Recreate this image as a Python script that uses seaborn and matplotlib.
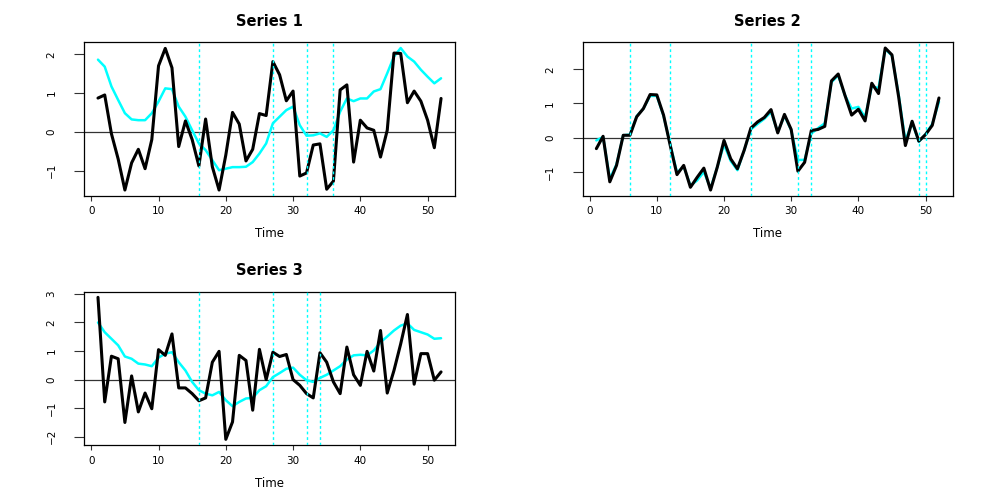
import numpy as np
import pandas as pd
import matplotlib
matplotlib.use("Agg")
import matplotlib.pyplot as plt
import seaborn as sns

# ---------- Data ---------- #
time = np.arange(1, 53)

series1_obs = [0.87, 0.95, -0.05, -0.70, -1.50, -0.80, -0.45, -0.95, -0.20, 1.70,
               2.15, 1.65, -0.38, 0.28, -0.20, -0.88, 0.33, -0.90, -1.50, -0.60,
               0.50, 0.20, -0.75, -0.45, 0.47, 0.42, 1.81, 1.47, 0.80, 1.05,
               -1.14, -1.06, -0.34, -0.31, -1.48, -1.27, 1.08, 1.21, -0.78, 0.30,
               0.10, 0.04, -0.65, 0.04, 2.03, 2.02, 0.75, 1.05, 0.79, 0.30,
               -0.41, 0.86]
series1_fit = [1.86, 1.68, 1.17, 0.82, 0.48, 0.32, 0.30, 0.30, 0.48, 0.78,
               1.12, 1.10, 0.65, 0.39, 0.04, -0.30, -0.47, -0.73, -0.99, -0.95,
               -0.91, -0.91, -0.90, -0.78, -0.56, -0.30, 0.22, 0.39, 0.56, 0.65,
               0.17, -0.10, -0.09, -0.04, -0.13, 0.04, 0.52, 0.86, 0.79, 0.86,
               0.86, 1.04, 1.10, 1.51, 1.94, 2.16, 1.94, 1.81, 1.60, 1.42,
               1.25, 1.38]
series1_breaks = [16, 27, 32, 36]

series2_obs = [-0.32, 0.04, -1.29, -0.81, 0.07, 0.07, 0.61, 0.85, 1.26, 1.25,
               0.66, -0.23, -1.08, -0.81, -1.45, -1.16, -0.89, -1.53, -0.86, -0.08,
               -0.62, -0.91, -0.37, 0.28, 0.46, 0.59, 0.82, 0.14, 0.68, 0.24,
               -0.98, -0.72, 0.21, 0.24, 0.33, 1.66, 1.86, 1.24, 0.66, 0.83,
               0.49, 1.59, 1.29, 2.62, 2.42, 1.19, -0.23, 0.48, -0.10, 0.09,
               0.36, 1.16]
series2_fit = [-0.08, 0.02, -1.20, -0.78, 0.07, 0.09, 0.63, 0.85, 1.22, 1.22,
               0.64, -0.20, -1.02, -0.84, -1.40, -1.25, -1.00, -1.48, -0.86, -0.20,
               -0.68, -0.95, -0.37, 0.24, 0.40, 0.55, 0.75, 0.16, 0.64, 0.22,
               -0.65, -0.65, 0.12, 0.28, 0.42, 1.62, 1.82, 1.24, 0.85, 0.90,
               0.60, 1.50, 1.45, 2.58, 2.40, 1.25, -0.10, 0.45, -0.12, 0.10,
               0.40, 1.05]
series2_breaks = [6, 12, 24, 31, 33, 49, 50]

series3_obs = [2.88, -0.78, 0.82, 0.73, -1.50, 0.13, -1.13, -0.47, -1.02, 1.05,
               0.85, 1.60, -0.29, -0.29, -0.49, -0.74, -0.64, 0.61, 0.99, -2.09,
               -1.48, 0.85, 0.67, -1.07, 1.06, 0.00, 0.96, 0.81, 0.88, 0.00,
               -0.20, -0.49, -0.64, 0.94, 0.61, -0.08, -0.49, 1.14, 0.17, -0.20,
               0.99, 0.30, 1.72, -0.47, 0.32, 1.25, 2.28, -0.16, 0.91, 0.91,
               -0.02, 0.27]
series3_fit = [2.00, 1.66, 1.43, 1.20, 0.81, 0.73, 0.56, 0.53, 0.47, 0.77,
               0.91, 0.96, 0.61, 0.32, -0.08, -0.37, -0.49, -0.55, -0.43, -0.72,
               -0.93, -0.78, -0.66, -0.64, -0.37, -0.23, 0.09, 0.23, 0.38, 0.42,
               0.17, -0.02, -0.08, 0.06, 0.17, 0.32, 0.47, 0.70, 0.85, 0.87,
               0.85, 1.02, 1.31, 1.51, 1.72, 1.89, 1.97, 1.74, 1.66, 1.58,
               1.43, 1.45]
series3_breaks = [16, 27, 32, 34]

titles = ["Series 1", "Series 2", "Series 3"]
x_ticks = [0, 10, 20, 30, 40, 50]
y_ticks = [[-1, 0, 1, 2], [-1, 0, 1, 2], [-2, -1, 0, 1, 2, 3]]

# ---------- Plot ---------- #
sns.set_theme(style="ticks")
plt.rcParams["font.family"] = ["DejaVu Sans"]
plt.rcParams.update({"text.color": "black", "axes.labelcolor": "black",
                     "xtick.color": "black", "ytick.color": "black"})

fig = plt.figure(figsize=(9.96, 4.98), dpi=100)
positions = [[0.0846, 0.607, 0.372, 0.308],
             [0.585, 0.607, 0.3715, 0.308],
             [0.0846, 0.1064, 0.372, 0.3079]]

panels = [(series1_obs, series1_fit, series1_breaks),
          (series2_obs, series2_fit, series2_breaks),
          (series3_obs, series3_fit, series3_breaks)]

for i, (obs, fit, breaks) in enumerate(panels):
    ax = fig.add_axes(positions[i])
    df = pd.DataFrame({"Time": time, "obs": obs, "fit": fit})

    ax.axhline(0, color="#333333", lw=0.9, zorder=1)
    sns.lineplot(data=df, x="Time", y="fit", ax=ax, color="#00FFFF", lw=1.8, zorder=2)
    sns.lineplot(data=df, x="Time", y="obs", ax=ax, color="black", lw=2.2, zorder=3)
    for b in breaks:
        ax.axvline(b, color="#00FFFF", lw=1.0, ls=(0, (2, 2)), zorder=4)

    # R-like 4% padding
    span = time.max() - time.min()
    ax.set_xlim(time.min() - 0.04 * span, time.max() + 0.04 * span)
    lo = min(min(obs), min(fit))
    hi = max(max(obs), max(fit))
    ax.set_ylim(lo - 0.04 * (hi - lo), hi + 0.04 * (hi - lo))

    ax.set_xticks(x_ticks)
    ax.set_yticks(y_ticks[i])
    ax.set_xlabel("Time", fontsize=8.5, labelpad=8)
    ax.set_ylabel("")
    ax.set_title(titles[i], fontsize=10.5, fontweight="bold", pad=12, color="black")

    for s in ax.spines.values():
        s.set_visible(True)
        s.set_color("black")
        s.set_linewidth(0.9)
    ax.tick_params(axis="x", length=3.6, width=0.8, labelsize=7.5, pad=4, color="#333333")
    ax.tick_params(axis="y", length=7, width=0.8, labelsize=7.5, pad=13,
                   labelrotation=90, color="#333333")
    for lbl in ax.get_yticklabels():
        lbl.set_va("center")

fig.savefig("out.png", dpi=100, facecolor="white")
